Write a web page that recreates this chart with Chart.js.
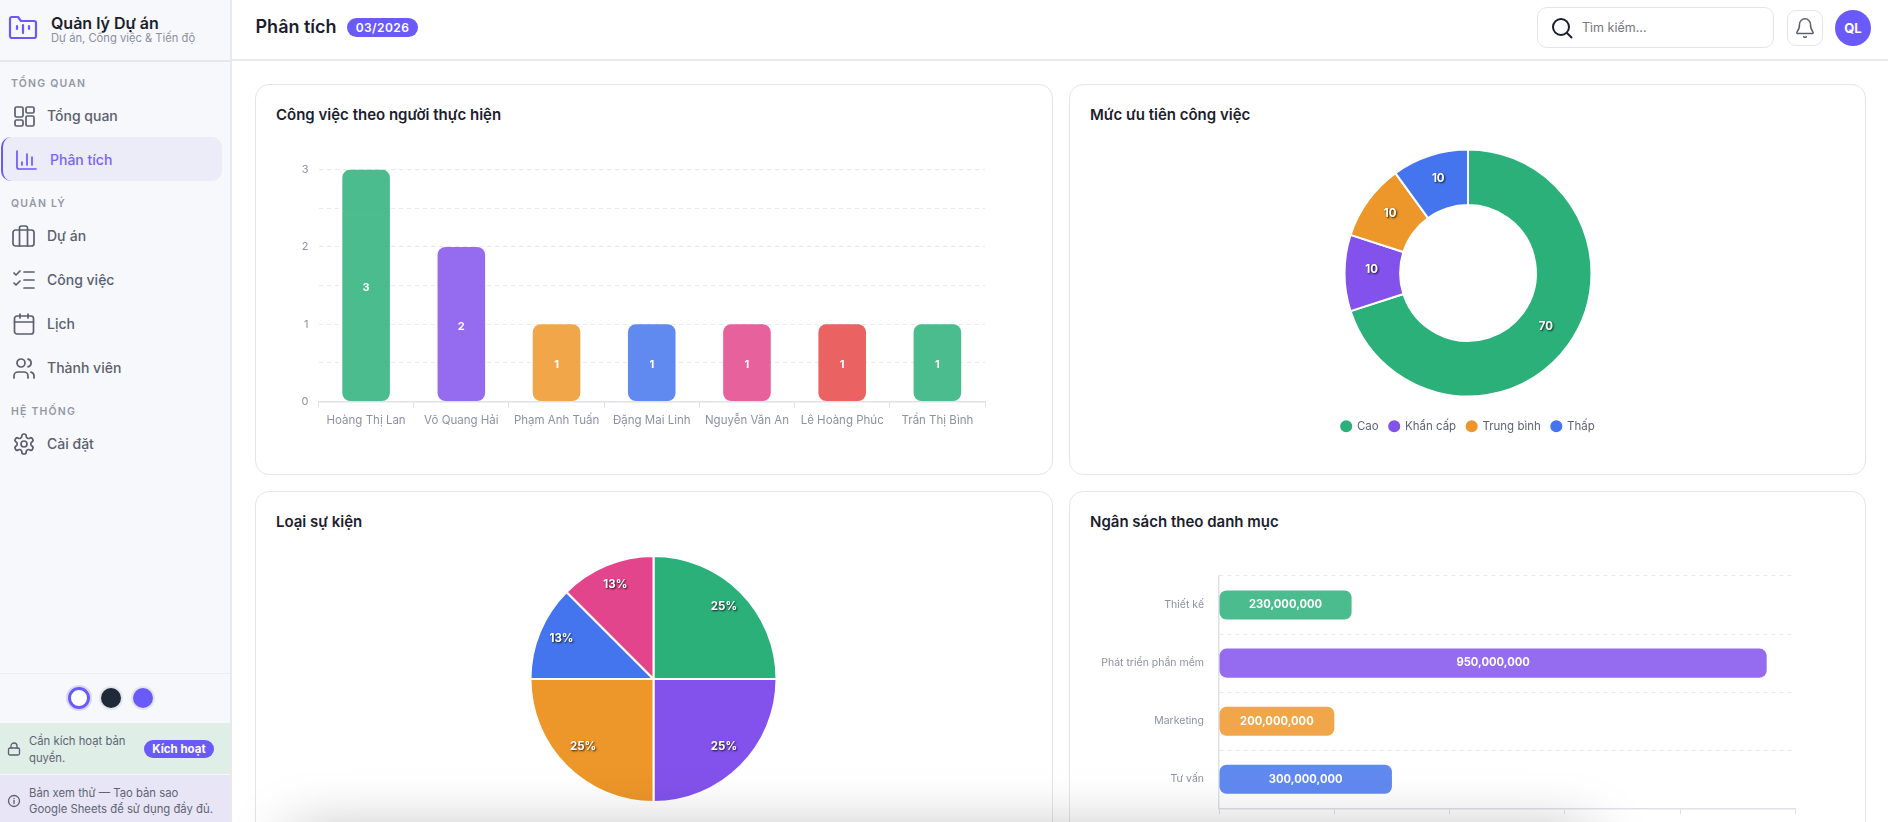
<!DOCTYPE html>
<html lang="vi">
<head>
<meta charset="utf-8">
<title>Phân tích</title>
<script src="https://cdn.jsdelivr.net/npm/chart.js@4"></script>
<style>
html,body{margin:0;padding:0;width:1888px;height:822px;overflow:hidden;background:#fff;font-family:Inter,"Noto Sans",sans-serif;color:#1c1e2e}
.abs,.t,.ic,canvas{position:absolute}
.t{white-space:nowrap;line-height:20px;height:20px}
#side{position:absolute;left:0;top:0;width:230px;height:822px;background:#f7f8fb;border-right:2px solid #e8e9ef}
.sec{font-size:10.5px;font-weight:600;letter-spacing:1.2px;color:#9397a6;left:11px}
.nav{font-size:14px;font-weight:500;color:#5b5f70;left:47px}
.ic{fill:none;stroke:#5b5f70;stroke-width:1.7;stroke-linecap:round;stroke-linejoin:round}
.card{position:absolute;background:#fff;border:1.5px solid #e4e5ec;border-radius:14px;box-sizing:border-box}
.ctitle{font-size:15px;font-weight:600;color:#1c1e2e}
.small{font-size:11.3px;color:#5f6372}
</style>
</head>
<body>
<div id="side">
  <svg class="ic" style="left:8px;top:14px;stroke:#6a5af9;stroke-width:2.2" width="30" height="27" viewBox="0 0 30 27"><path d="M2 5a2 2 0 0 1 2-2h6l3 4h13a2 2 0 0 1 2 2v13a2 2 0 0 1-2 2H4a2 2 0 0 1-2-2z"/><path d="M9 12v3M15 11v8M21 12v3"/></svg>
  <div class="t" style="left:51px;top:13px;font-size:16px;font-weight:600;color:#1c1e2e">Quản lý Dự án</div>
  <div class="t" style="left:51px;top:28px;font-size:11.2px;color:#8b8fa0">Dự án, Công việc &amp; Tiến độ</div>
  <div class="abs" style="left:0;top:60px;width:230px;height:1.5px;background:#e6e7ec"></div>

  <div class="t sec" style="top:74px">TỔNG QUAN</div>
  <svg class="ic" style="left:12px;top:104px" width="24" height="24" viewBox="0 0 24 24"><rect x="3" y="3" width="8" height="10" rx="1.5"/><rect x="14" y="3" width="8" height="6" rx="1.5"/><rect x="14" y="12" width="8" height="10" rx="1.5"/><rect x="3" y="16" width="8" height="6" rx="1.5"/></svg>
  <div class="t nav" style="top:106px">Tổng quan</div>

  <div class="abs" style="left:1px;top:137px;width:221px;height:44px;background:#ecebf8;border-radius:10px;border-left:2px solid #6a5af9;box-sizing:border-box"></div>
  <svg class="ic" style="left:14px;top:148px;stroke:#6a5af9" width="24" height="24" viewBox="0 0 24 24"><path d="M3 3v16a2 2 0 0 0 2 2h17"/><path d="M8 17v-3M13 17V6M18 17V9"/></svg>
  <div class="t nav" style="left:50px;top:150px;color:#7566f7">Phân tích</div>

  <div class="t sec" style="top:194px">QUẢN LÝ</div>
  <svg class="ic" style="left:11px;top:224px" width="25" height="24" viewBox="0 0 25 24"><rect x="2" y="6" width="21" height="16" rx="2.5"/><path d="M8.5 22V4a2 2 0 0 1 2-2h4a2 2 0 0 1 2 2v18"/></svg>
  <div class="t nav" style="top:226px">Dự án</div>
  <svg class="ic" style="left:12px;top:268px" width="24" height="24" viewBox="0 0 24 24"><path d="m2 5 2 2 4-4M2 15l2 2 4-4M12 4h10M12 12h10M12 20h10"/></svg>
  <div class="t nav" style="top:270px">Công việc</div>
  <svg class="ic" style="left:12px;top:312px" width="24" height="24" viewBox="0 0 24 24"><rect x="2.5" y="4" width="19" height="18" rx="2.5"/><path d="M8 2v4M16 2v4M2.5 10h19"/></svg>
  <div class="t nav" style="top:314px">Lịch</div>
  <svg class="ic" style="left:12px;top:356px" width="24" height="24" viewBox="0 0 24 24"><path d="M16 22v-2a4 4 0 0 0-4-4H6a4 4 0 0 0-4 4v2"/><circle cx="9" cy="7" r="4"/><path d="M22 22v-2a4 4 0 0 0-3-3.9M16 3.1a4 4 0 0 1 0 7.8"/></svg>
  <div class="t nav" style="top:358px">Thành viên</div>

  <div class="t sec" style="top:402px">HỆ THỐNG</div>
  <svg class="ic" style="left:12px;top:432px" width="24" height="24" viewBox="0 0 24 24"><path d="M12.2 2h-.4a2 2 0 0 0-2 2v.2a2 2 0 0 1-1 1.7l-.4.3a2 2 0 0 1-2 0l-.2-.1a2 2 0 0 0-2.7.7l-.2.4a2 2 0 0 0 .7 2.7l.2.1a2 2 0 0 1 1 1.7v.6a2 2 0 0 1-1 1.7l-.2.1a2 2 0 0 0-.7 2.7l.2.4a2 2 0 0 0 2.7.7l.2-.1a2 2 0 0 1 2 0l.4.3a2 2 0 0 1 1 1.7v.2a2 2 0 0 0 2 2h.4a2 2 0 0 0 2-2v-.2a2 2 0 0 1 1-1.7l.4-.3a2 2 0 0 1 2 0l.2.1a2 2 0 0 0 2.7-.7l.2-.4a2 2 0 0 0-.7-2.7l-.2-.1a2 2 0 0 1-1-1.7v-.6a2 2 0 0 1 1-1.7l.2-.1a2 2 0 0 0 .7-2.7l-.2-.4a2 2 0 0 0-2.7-.7l-.2.1a2 2 0 0 1-2 0l-.4-.3a2 2 0 0 1-1-1.7V4a2 2 0 0 0-2-2z"/><circle cx="12" cy="12" r="3"/></svg>
  <div class="t nav" style="top:434px">Cài đặt</div>

  <div class="abs" style="left:0;top:673px;width:230px;height:1px;background:#eceef2"></div>
  <div class="abs" style="left:68px;top:687px;width:16px;height:16px;background:#fff;border:3px solid #6a5af9;border-radius:50%;box-shadow:0 0 0 2px #d9d6f8"></div>
  <div class="abs" style="left:101px;top:688px;width:20px;height:20px;background:#1f2937;border-radius:50%;box-shadow:0 0 0 2px #e4e5ec"></div>
  <div class="abs" style="left:133px;top:688px;width:20px;height:20px;background:#6a5af9;border-radius:50%;box-shadow:0 0 0 2px #e4e5ec"></div>

  <div class="abs" style="left:0;top:723px;width:230px;height:51px;background:#dfeee7"></div>
  <svg class="ic" style="left:7px;top:742px;stroke-width:1.3" width="14" height="14" viewBox="0 0 14 14"><rect x="1.5" y="6" width="11" height="7" rx="1.5"/><path d="M4 6V4a3 3 0 0 1 6 0v2"/></svg>
  <div class="t small" style="left:29px;top:731px">Cần kích hoạt bản</div>
  <div class="t small" style="left:29px;top:748px">quyền.</div>
  <div class="t" style="left:144px;top:740px;width:70px;height:18px;line-height:18px;background:#6a5af9;border-radius:9px;color:#fff;font-size:11.5px;font-weight:700;text-align:center">Kích hoạt</div>

  <div class="abs" style="left:0;top:775px;width:230px;height:47px;background:#e8e6f6"></div>
  <svg class="ic" style="left:7px;top:794px;stroke-width:1.3" width="14" height="14" viewBox="0 0 14 14"><circle cx="7" cy="7" r="5.5"/><path d="M7 6.5v3M7 4.5v.1"/></svg>
  <div class="t small" style="left:29px;top:783px">Bản xem thử — Tạo bản sao</div>
  <div class="t small" style="left:29px;top:799px">Google Sheets để sử dụng đầy đủ.</div>
</div>

<div class="t" style="left:255.500px;top:17px;font-size:18px;font-weight:600;color:#1c1e2e">Phân tích</div>
<div class="t" style="left:347px;top:18px;width:71px;height:19px;line-height:19px;background:#6a5af9;border-radius:10px;color:#fff;font-size:12px;font-weight:600;letter-spacing:.4px;text-align:center">03/2026</div>
<div class="abs" style="left:232px;top:59px;width:1656px;height:1.5px;background:#e9eaef"></div>
<div class="abs" style="left:1537px;top:7px;width:237px;height:41px;border:1.5px solid #e4e5ec;border-radius:10px;box-sizing:border-box"></div>
<svg class="ic" style="left:1551px;top:17px;stroke:#1c1e2e;stroke-width:2" width="22" height="22" viewBox="0 0 22 22"><circle cx="10" cy="10" r="8"/><path d="m16 16 4.500 4.500"/></svg>
<div class="t" style="left:1582px;top:18px;font-size:12.5px;color:#757680">Tìm kiếm...</div>
<div class="abs" style="left:1787px;top:10px;width:36px;height:36px;border:1.5px solid #e4e5ec;border-radius:9px;box-sizing:border-box"></div>
<svg class="ic" style="left:1794px;top:17px;stroke-width:1.6" width="22" height="22" viewBox="0 0 24 24"><path d="M3.300 16.300A1 1 0 0 0 4 18h16a1 1 0 0 0 .7-1.700C19.400 15 18 13.500 18 8a6 6 0 0 0-12 0c0 5.500-1.400 7-2.700 8.300"/><path d="M10.500 21.500a2 2 0 0 0 3 0"/></svg>
<div class="t" style="left:1835px;top:10px;width:36px;height:36px;line-height:36px;background:#6a5af9;border-radius:50%;color:#fff;font-size:13px;font-weight:700;text-align:center">QL</div>

<div class="card" style="left:255px;top:84px;width:798px;height:391px"></div>
<div class="card" style="left:1069px;top:84px;width:797px;height:391px"></div>
<div class="card" style="left:255px;top:491px;width:798px;height:400px"></div>
<div class="card" style="left:1069px;top:491px;width:797px;height:400px"></div>
<div class="t ctitle" style="left:276px;top:105px">Công việc theo người thực hiện</div>
<div class="t ctitle" style="left:1090px;top:105px">Mức ưu tiên công việc</div>
<div class="t ctitle" style="left:276px;top:512px">Loại sự kiện</div>
<div class="t ctitle" style="left:1090px;top:512px">Ngân sách theo danh mục</div>

<canvas id="assignee" width="755" height="320" style="left:276px;top:135px"></canvas>
<canvas id="priority" width="754" height="306" style="left:1091px;top:136px"></canvas>
<canvas id="events" width="755" height="278" style="left:276px;top:540px"></canvas>
<canvas id="budget" width="754" height="320" style="left:1090px;top:540px"></canvas>

<div class="abs" style="left:300px;top:842px;width:1280px;height:40px;box-shadow:0 0 60px 10px rgba(0,0,0,.28);z-index:5"></div>

<script>
// values
const assignees = ['Hoàng Thị Lan','Võ Quang Hải','Phạm Anh Tuấn','Đặng Mai Linh','Nguyễn Văn An','Lê Hoàng Phúc','Trần Thị Bình'];
const assigneeTasks = [3,2,1,1,1,1,1];
const assigneeColors = ['green','purple','orange','blue','pink','red','green'];

const priorities = ['Cao','Khẩn cấp','Trung bình','Thấp'];
const priorityShares = [70,10,10,10];
const priorityColors = ['green','purple','orange','blue'];

const eventShares = [25,25,25,12.5,12.5];
const eventColors = ['green','purple','orange','blue','pink'];

const budgetCategories = ['Thiết kế','Phát triển phần mềm','Marketing','Tư vấn'];
const budgetValues = [230000000,950000000,200000000,300000000];
const budgetColors = ['green','purple','orange','blue'];

const RGB = {green:'43,176,122',purple:'131,82,236',orange:'237,150,41',blue:'69,117,238',pink:'227,69,140',red:'230,70,70'};
const solid = n => `rgb(${RGB[n]})`;
const soft = n => `rgba(${RGB[n]},0.85)`;

const FONT = 'Inter';
const TICK = '#8d91a2';
const GRID = '#e9eaee';
const AXIS = '#e0e1e6';

Chart.defaults.font.family = FONT;
Chart.defaults.animation = false;
Chart.defaults.responsive = false;
Chart.defaults.plugins.tooltip.enabled = false;

// small stand-in for the datalabels plugin
const valueLabels = {
  id: 'valueLabels',
  afterDatasetsDraw(chart, args, opts){
    const {ctx} = chart;
    const ds = chart.data.datasets[0];
    const dy = opts.dy || 0;
    ctx.save();
    ctx.fillStyle = '#fff';
    ctx.font = `700 ${opts.size||11.5}px ${FONT}`;
    ctx.textAlign = 'center';
    ctx.textBaseline = 'middle';
    if(opts.shadow){
      ctx.shadowColor = 'rgba(0,0,0,0.8)';
      ctx.shadowBlur = 2;
      ctx.shadowOffsetX = 1;
      ctx.shadowOffsetY = 1;
    }
    chart.getDatasetMeta(0).data.forEach((el,i) => {
      let x, y;
      if(opts.arc){
        const p = el.getProps(['x','y','startAngle','endAngle','outerRadius']);
        const mid = (p.startAngle + p.endAngle) / 2;
        x = p.x + Math.cos(mid) * p.outerRadius * opts.arc;
        y = p.y + Math.sin(mid) * p.outerRadius * opts.arc;
      } else {
        const c = el.getCenterPoint();
        x = c.x; y = c.y;
      }
      ctx.fillText(opts.format(ds.data[i]), x, y + dy);
    });
    ctx.restore();
  }
};

new Chart(document.getElementById('assignee'), {
  type: 'bar',
  plugins: [valueLabels],
  data: { labels: assignees, datasets: [{
    data: assigneeTasks,
    backgroundColor: assigneeColors.map(soft),
    borderRadius: 8, borderSkipped: false,
    barPercentage: 0.5, categoryPercentage: 1
  }]},
  options: {
    layout: { padding: { top: 34.6, right: 46, bottom: 13.4, left: 0 } },
    plugins: { legend: {display:false}, valueLabels: { format: v => String(v), size: 11, dy: 2.5 } },
    scales: {
      x: {
        afterFit: s => { s.height = 40; },
        grid: { drawOnChartArea:false, color:AXIS, tickLength:6 },
        border: { color:AXIS, width:1.5 },
        ticks: { color:TICK, font:{size:11.5}, padding:6, maxRotation:0 }
      },
      y: {
        min: 0, max: 3,
        afterFit: s => { s.width = 42.5; },
        grid: { color:GRID, drawTicks:false },
        border: { display:false, dash:[4,4] },
        ticks: { stepSize:0.5, color:TICK, font:{size:11}, padding:10,
          callback: v => Number.isInteger(v) ? v : '' }
      }
    }
  }
});

new Chart(document.getElementById('priority'), {
  type: 'doughnut',
  plugins: [valueLabels],
  data: { labels: priorities, datasets: [{
    data: priorityShares,
    backgroundColor: priorityColors.map(solid),
    borderColor: '#fff', borderWidth: 2,
    radius: 123.5, cutout: '55%', hoverOffset: 0
  }]},
  options: {
    plugins: {
      legend: { position:'bottom', labels: { usePointStyle:true, pointStyle:'circle', boxWidth:10, boxHeight:10, padding:10.5, color:'#5f6372', font:{size:11.5} } },
      valueLabels: { arc:0.78, shadow:true, dy:-3, format: v => String(v) }
    }
  }
});

new Chart(document.getElementById('events'), {
  type: 'pie',
  plugins: [valueLabels],
  data: { datasets: [{
    data: eventShares,
    backgroundColor: eventColors.map(solid),
    borderColor: '#fff', borderWidth: 2,
    radius: 123, hoverOffset: 0
  }]},
  options: {
    plugins: { legend: {display:false}, valueLabels: { arc:0.81, shadow:true, dy:-2.5, format: v => Math.round(v) + '%' } }
  }
});

new Chart(document.getElementById('budget'), {
  type: 'bar',
  plugins: [valueLabels],
  data: { labels: budgetCategories, datasets: [{
    data: budgetValues,
    backgroundColor: budgetColors.map(soft),
    borderRadius: 7, borderSkipped: false,
    barPercentage: 0.5, categoryPercentage: 1
  }]},
  options: {
    indexAxis: 'y',
    layout: { padding: { top: 36, right: 48.5, bottom: 11.7, left: 0 } },
    plugins: { legend: {display:false}, valueLabels: { format: v => v.toLocaleString('en-US'), size: 11.2 } },
    scales: {
      x: {
        min: 0, max: 1000000000,
        afterFit: s => { s.height = 40; },
        grid: { drawOnChartArea:false, color:AXIS, tickLength:6 },
        border: { color:AXIS, width:1.5 },
        ticks: { stepSize:200000000, color:TICK, font:{size:12}, padding:5.5, maxRotation:0,
          callback: v => v.toLocaleString('en-US') }
      },
      y: {
        afterFit: s => { s.width = 129; },
        grid: { color:GRID, drawTicks:false },
        border: { color:AXIS, width:1.5, dash:[4,4] },
        ticks: { color:TICK, font:{size:10.5}, padding:15 }
      }
    }
  }
});
</script>
</body>
</html>
